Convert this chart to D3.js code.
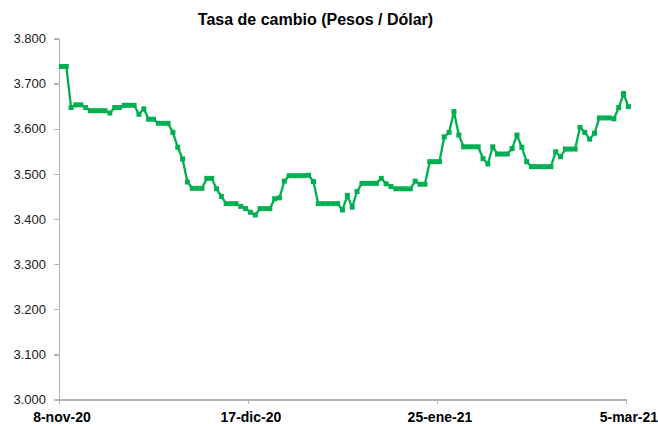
<!DOCTYPE html>
<meta charset="utf-8">
<style>
    body {
        margin: 0;
        background-color: #fff;
    }

    svg {
        display: block;
        font-family: "Liberation Sans", Arial, sans-serif;
    }

    .titulo {
        font-size: 16px;
        font-weight: bold;
        fill: #000;
    }

    .eixo path,
    .eixo line {
        stroke: #b3b3b3;
        stroke-width: 1.3px;
        shape-rendering: crispEdges;
    }

    .eixo-y text {
        font-size: 13px;
        fill: #1a1a1a;
    }

    .eixo-x text {
        font-size: 14px;
        font-weight: bold;
        fill: #000;
    }

    .linha {
        fill: none;
        stroke: #00b050;
        stroke-width: 2.3px;
        stroke-linejoin: round;
    }

    .marcador {
        fill: #00b050;
    }
</style>
<title>Tasa de cambio</title>
<svg width="658" height="424"></svg>
<script src="https://cdn.jsdelivr.net/npm/d3@7"></script>
<script>
    // primeiro dia da série (um valor por dia, 8-nov-20 a 5-mar-21)
    var dataInicial = new Date(2020, 10, 8);

    // tasa de cambio diaria (pesos por dólar)
    var valores = [
        3738, 3738, 3647, 3653, 3653, 3647, 3640, 3640, 3640, 3640,
        3635, 3647, 3647, 3652, 3652, 3652, 3632, 3644, 3621, 3621,
        3612, 3612, 3612, 3592, 3559, 3533, 3482, 3468, 3468, 3468,
        3490, 3490, 3467, 3450, 3434, 3434, 3434, 3428, 3423, 3415,
        3409, 3423, 3423, 3423, 3445, 3447, 3484, 3496, 3496, 3496,
        3496, 3497, 3483, 3434, 3434, 3434, 3434, 3434, 3420, 3452,
        3426, 3461, 3479, 3479, 3479, 3479, 3490, 3478, 3472, 3467,
        3467, 3467, 3467, 3484, 3477, 3477, 3527, 3527, 3527, 3582,
        3592, 3638, 3586, 3560, 3560, 3560, 3560, 3534, 3522, 3560,
        3544, 3544, 3544, 3556, 3586, 3559, 3527, 3516, 3516, 3516,
        3516, 3516, 3549, 3538, 3555, 3555, 3555, 3603, 3592, 3577,
        3590, 3624, 3624, 3624, 3622, 3647, 3678, 3649
    ];

    var datasTicks = [new Date(2020, 10, 8), new Date(2020, 11, 17), new Date(2021, 0, 25), new Date(2021, 2, 5)];
    var rotulosTicks = ["8-nov-20", "17-dic-20", "25-ene-21", "5-mar-21"];
    var ticksY = [3000, 3100, 3200, 3300, 3400, 3500, 3600, 3700, 3800];

    var dados = valores.map(function (v, i) {
        return { data: d3.timeDay.offset(dataInicial, i), valor: v };
    });

    var locale = d3.formatLocale({
        "decimal": ",",
        "thousands": ".",
        "grouping": [3],
        "currency": ["$", ""]
    });
    var format = locale.format(",d");

    var svg = d3.select("svg"),
        esq = 59, dir = 626, topo = 38.5, base = 399.5;

    var x = d3.scaleTime()
        .domain([datasTicks[0], datasTicks[datasTicks.length - 1]])
        .range([esq, dir]);

    var y = d3.scaleLinear()
        .domain([3000, 3800])
        .range([base, topo]);

    // meio dia: cada ponto fica no centro do seu dia
    function px(d) { return x(d3.timeHour.offset(d.data, 12)); }

    svg.append("text")
        .attr("class", "titulo")
        .attr("x", 315.5)
        .attr("y", 25)
        .attr("text-anchor", "middle")
        .text("Tasa de cambio (Pesos / Dólar)");

    var eixoY = svg.append("g")
        .attr("class", "eixo eixo-y")
        .attr("transform", "translate(" + esq + ",0)")
        .call(d3.axisLeft(y).tickValues(ticksY).tickFormat(format).tickSize(5).tickSizeOuter(0).tickPadding(8));

    var eixoX = svg.append("g")
        .attr("class", "eixo eixo-x")
        .attr("transform", "translate(0," + base + ")")
        .call(d3.axisBottom(x).tickValues(datasTicks).tickSize(4).tickSizeOuter(0)
            .tickFormat(function (d, i) { return rotulosTicks[i]; }));

    eixoX.selectAll(".tick text")
        .attr("x", 2.4)
        .attr("y", 0)
        .attr("dy", 0)
        .attr("transform", "translate(0,22.5)");

    var linha = d3.line()
        .x(px)
        .y(function (d) { return y(d.valor); });

    svg.append("path")
        .datum(dados)
        .attr("class", "linha")
        .attr("d", linha);

    svg.selectAll(".marcador")
        .data(dados)
        .enter().append("rect")
        .attr("class", "marcador")
        .attr("x", function (d) { return px(d) - 2.5; })
        .attr("y", function (d) { return y(d.valor) - 2.5; })
        .attr("width", 5)
        .attr("height", 5);
</script>
